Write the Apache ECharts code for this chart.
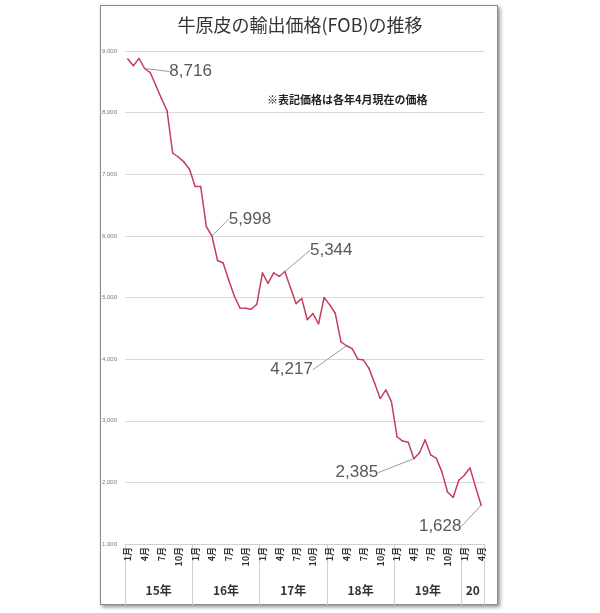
<!DOCTYPE html>
<html>
<head>
<meta charset="utf-8">
<script src="https://cdn.jsdelivr.net/npm/echarts@6/dist/echarts.min.js"></script>
<style>
html,body{margin:0;padding:0;background:#fff;}
#frame{position:absolute;left:100px;top:5px;width:396px;height:598px;border:1px solid #8a8a8a;box-shadow:2px 2px 4px rgba(0,0,0,0.45);background:#fff;}
#chart{position:absolute;left:0;top:0;width:600px;height:613px;}
</style>
</head>
<body>
<div id="frame"></div>
<div id="chart"></div>
<script>
// ---- data ----
const titleText = '牛原皮の輸出価格(FOB)の推移';
const noteText = '※表記価格は各年4月現在の価格';
const yearLabels = ['15年', '16年', '17年', '18年', '19年', '20'];
const monthsPerYear = [12, 12, 12, 12, 12, 4];
const monthTickLabels = ['1月', '4月', '7月', '10月'];
const prices = [
  8870, 8760, 8880, 8716, 8650, 8440, 8230, 8030, 7345, 7280, 7200, 7080,
  6800, 6800, 6150, 5998, 5600, 5560, 5280, 5020, 4830, 4825, 4810, 4890,
  5400, 5230, 5400, 5344, 5420, 5160, 4900, 4985, 4640, 4740, 4570, 5000,
  4880, 4740, 4280, 4217, 4170, 4000, 3985, 3850, 3610, 3360, 3500, 3310,
  2740, 2670, 2650, 2385, 2480, 2690, 2445, 2390, 2170, 1845, 1755, 2035,
  2115, 2235, 1925, 1628
];
const labeledIndexes = [3, 15, 27, 39, 51, 63];
const yTicks = [1000, 2000, 3000, 4000, 5000, 6000, 7000, 8000, 9000];

// ---- layout (label offsets relative to their points) ----
const labelOffsets = {3: [46, 3], 15: [38, -17], 27: [52, -26], 39: [-55, 24], 51: [-57, 14], 63: [-41, 21]};

// categories
const categories = [];
const yearStart = [];
const yearMid = {};
yearLabels.forEach((y, yi) => {
  yearStart.push(categories.length);
  for (let m = 1; m <= monthsPerYear[yi]; m++) categories.push(y + '|' + m);
  yearMid[categories.length - 1 - monthsPerYear[yi] / 2] = y;
});
const boundarySet = new Set(yearStart.concat([categories.length]));

const seriesData = prices.map((v, i) => labeledIndexes.includes(i)
  ? {value: v, label: {show: true}}
  : v);

const chart = echarts.init(document.getElementById('chart'), null, {renderer: 'canvas'});
chart.setOption({
  backgroundColor: 'transparent',
  animation: false,
  title: [
    {text: titleText, left: 'center', top: 11,
     textStyle: {fontSize: 18, fontWeight: 'normal', color: '#333', fontFamily: 'Noto Sans CJK JP'}},
    {text: noteText, left: 262, top: 89,
     textStyle: {fontSize: 11, fontWeight: 'bold', color: '#222', fontFamily: 'Noto Sans CJK JP'}}
  ],
  grid: {left: 125, right: 116, top: 51, bottom: 69, containLabel: false},
  xAxis: [
    {
      type: 'category', data: categories, position: 'bottom', boundaryGap: true,
      axisLine: {show: true, lineStyle: {color: '#d0d0d0', width: 1}},
      axisTick: {show: false},
      axisLabel: {
        interval: 0, rotate: 90, margin: 3, fontSize: 9, color: '#333',
        fontFamily: 'Noto Sans CJK JP', fontWeight: 'bold',
        formatter: function (v) {
          const m = parseInt(v.split('|')[1], 10);
          return (m - 1) % 3 === 0 ? monthTickLabels[(m - 1) / 3] : '';
        }
      },
      splitLine: {show: false}
    },
    {
      type: 'category', data: categories, position: 'bottom', boundaryGap: true,
      axisLine: {show: false},
      axisTick: {show: true, length: 61, lineStyle: {color: '#d0d0d0', width: 1},
        interval: function (i) { return boundarySet.has(i); }},
      axisLabel: {
        interval: function (i) { return yearMid[i] !== undefined; },
        margin: 40, fontSize: 12, color: '#333', fontFamily: 'Noto Sans CJK JP', fontWeight: 'bold',
        padding: [0, 0, 0, 5.6],
        formatter: function (v, i) { return yearMid[i] || ''; }
      },
      splitLine: {show: false}
    }
  ],
  yAxis: {
    type: 'value', min: yTicks[0], max: yTicks[yTicks.length - 1], interval: 1000,
    axisLine: {show: false}, axisTick: {show: false},
    axisLabel: {fontSize: 6, color: '#777', margin: 8,
      formatter: function (v) { return v.toLocaleString('en-US'); }},
    splitLine: {lineStyle: {color: '#d9d9d9', width: 1}}
  },
  series: [{
    type: 'line', xAxisIndex: 0, data: seriesData,
    symbol: 'circle', symbolSize: 1.5, showSymbol: true, showAllSymbol: true,
    lineStyle: {color: '#c63d5c', width: 1.5},
    itemStyle: {color: '#c63d5c', borderWidth: 0},
    label: {show: false, position: 'inside', fontSize: 17, color: '#595959',
      fontFamily: 'Liberation Sans, Arial, sans-serif',
      formatter: function (p) { return p.value.toLocaleString('en-US'); }},
    labelLine: {show: true, lineStyle: {color: '#9a9a9a', width: 1}},
    labelLayout: function (p) {
      const o = labelOffsets[p.dataIndex];
      return o ? {dx: o[0], dy: o[1]} : {};
    },
    emphasis: {disabled: true}
  }]
});
</script>
</body>
</html>
